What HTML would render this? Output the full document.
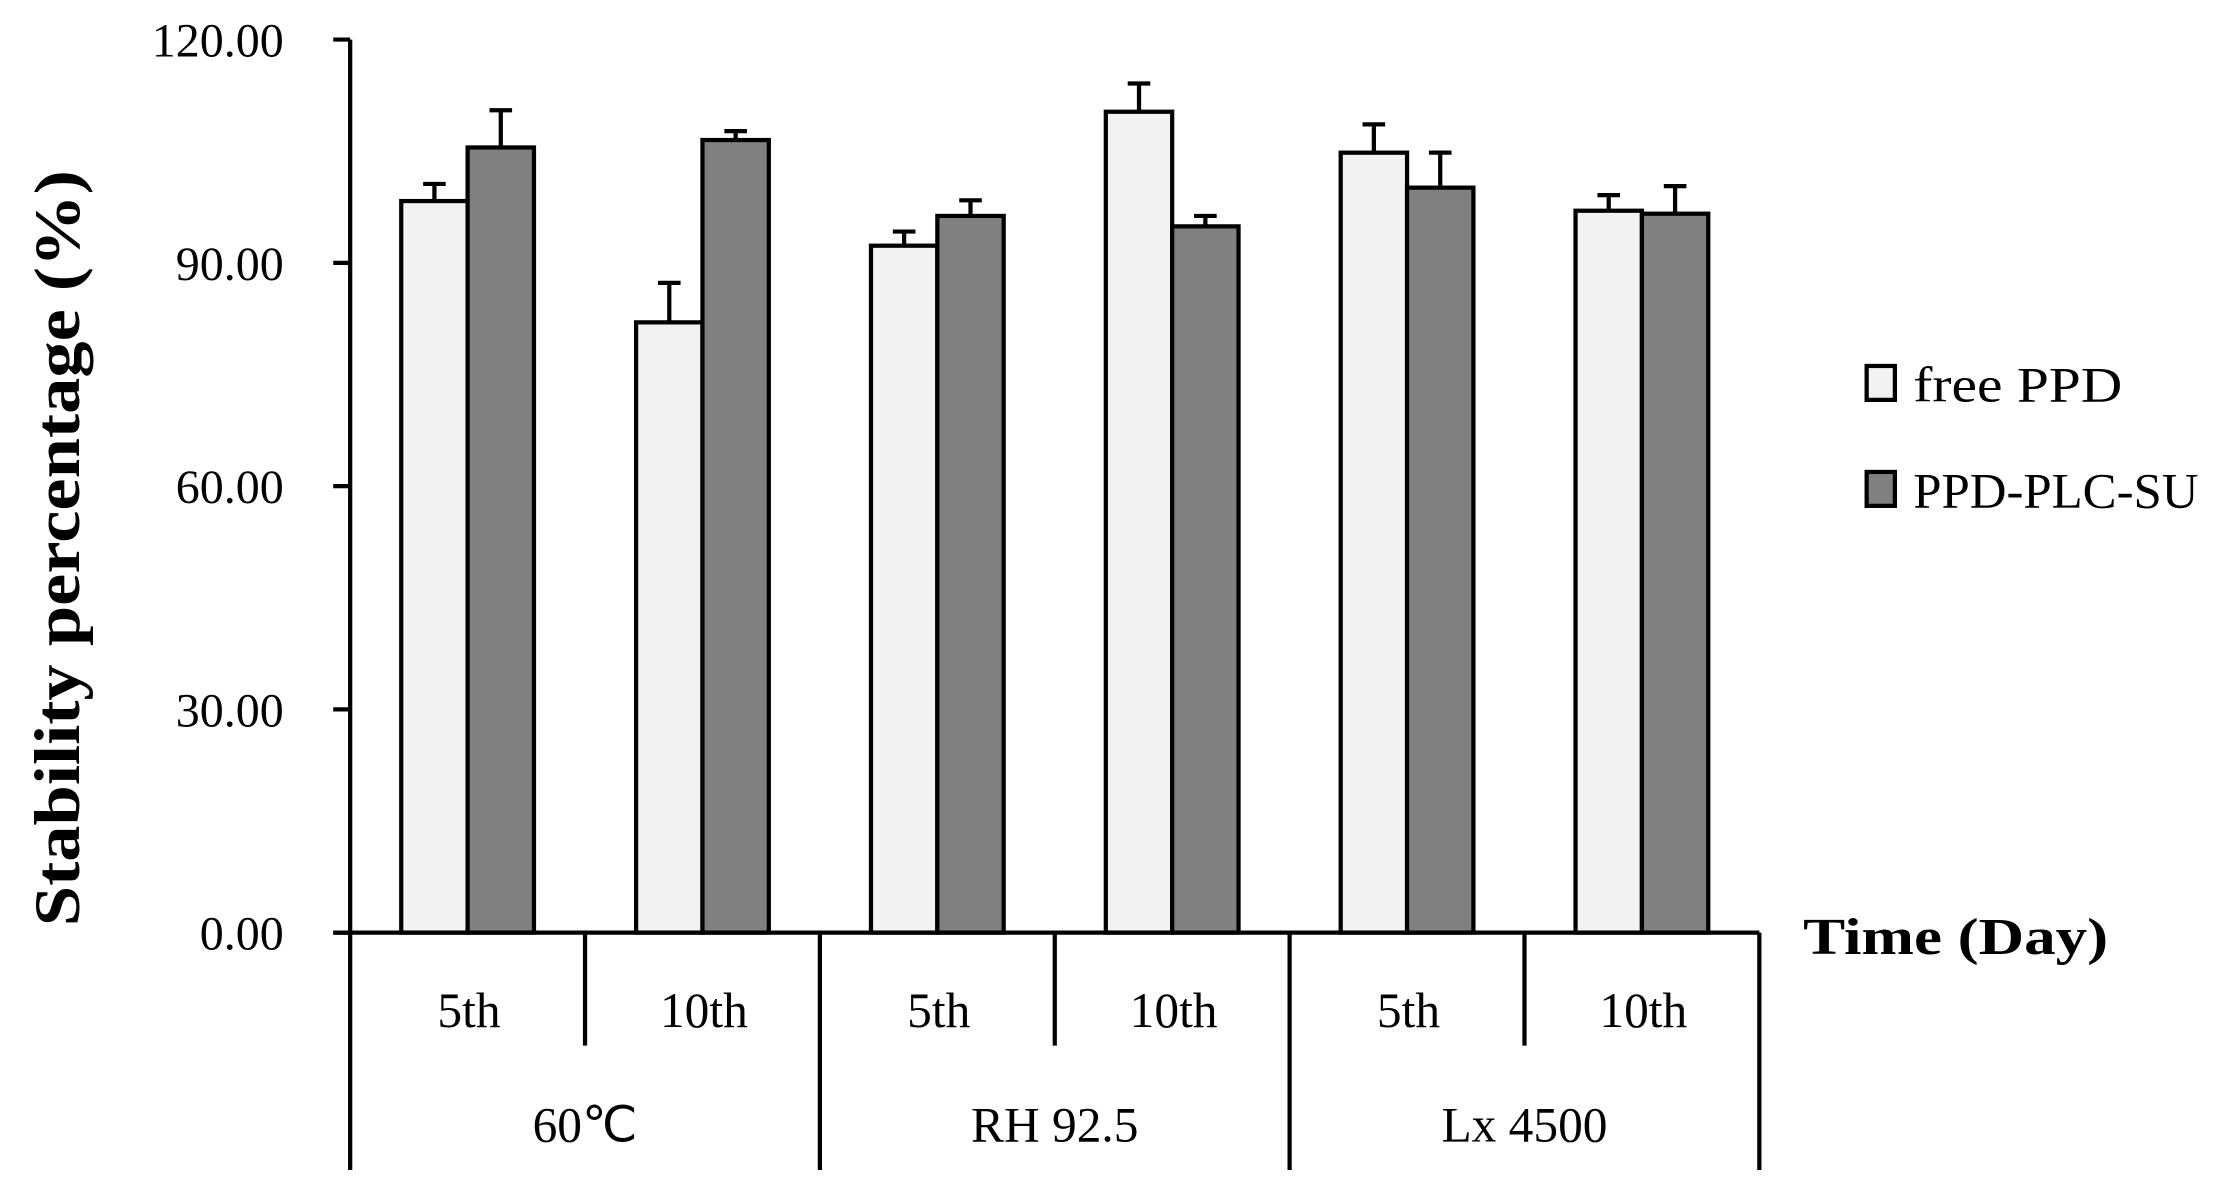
<!DOCTYPE html>
<html><head><meta charset="utf-8"><style>html,body{margin:0;padding:0;background:#fff}svg{display:block}</style></head>
<body>
<svg width="2214" height="1194" viewBox="0 0 1568 845" preserveAspectRatio="none" xmlns="http://www.w3.org/2000/svg" font-family="'Liberation Serif', serif">
<g id="plot"></g>
<script>
const categories = ["5th","10th","5th","10th","5th","10th"];
const groups = ["60℃","RH 92.5","Lx 4500"];
const freeVals = [98.3, 82.0, 92.3, 110.3, 104.8, 97.0];
const freeErr = [2.3, 5.3, 1.9, 3.8, 3.8, 2.1];
const plcVals = [105.5, 106.5, 96.3, 94.9, 100.1, 96.6];
const plcErr = [5.0, 1.2, 2.1, 1.4, 4.7, 3.7];
const yTicks = [0, 30, 60, 90, 120];
const yTickLabels = ["0.00","30.00","60.00","90.00","120.00"];

const NS = "http://www.w3.org/2000/svg";
const g = document.getElementById('plot');
const x0 = 248, x1 = 1246, yTop = 28, yBot = 660, yMax = 120;
const slot = (x1 - x0) / categories.length;
const bw = 47;
function yS(v){ return yBot - v / yMax * (yBot - yTop); }
function xC(i){ return x0 + slot * (i + 0.5); }
function mk(tag, attrs, parent){ const e = document.createElementNS(NS, tag); for (const k in attrs) e.setAttribute(k, attrs[k]); (parent||g).appendChild(e); return e; }

yTicks.forEach((t, i) => {
  const y = yS(t);
  const tk = mk('line', {x1: 236, x2: x0, y1: y, y2: y, stroke: '#000', 'stroke-width': 3});
  
  
  const tx = mk('text', {x: 201, y: y + 12, 'text-anchor': 'end', 'font-size': 34});
  tx.textContent = yTickLabels[i];
  
  
});

function bar(v, e, xl, fill, name){
  const y = yS(v);
  const r = mk('rect', {x: xl, y: y, width: bw, height: yBot - y, fill: fill, stroke: '#000', 'stroke-width': 3});
  
  
  const cx = xl + bw / 2, ye = yS(v + e);
  const el = mk('path', {d: `M${cx},${y} V${ye} M${cx-8},${ye} H${cx+8}`, stroke: '#000', 'stroke-width': 3, fill: 'none'});
  
  
}
categories.forEach((c, i) => {
  const cx = xC(i);
  bar(freeVals[i], freeErr[i], cx - bw, '#f2f2f2', 'bar-free-ppd');
  bar(plcVals[i], plcErr[i], cx, '#808080', 'bar-ppd-plc-su');
  const t = mk('text', {x: cx + 1, y: 727, 'text-anchor': 'middle', 'font-size': 35});
  t.textContent = c;
  
  
});
for (let i = 0; i <= categories.length; i++) {
  const x = x0 + slot * i;
  const l = mk('line', {x1: x, x2: x, y1: yBot, y2: (i % 2 === 0) ? 828 : 740, stroke: '#000', 'stroke-width': 3});
  
  
}
groups.forEach((gr, j) => {
  const t = mk('text', {x: x0 + slot * (2 * j + 1), y: 808, 'text-anchor': 'middle', 'font-size': 35});
  t.textContent = gr;
  
  
});
const ya = mk('line', {x1: x0, x2: x0, y1: yTop, y2: yBot, stroke: '#000', 'stroke-width': 3});


const xa = mk('line', {x1: 236, x2: x1, y1: yBot, y2: yBot, stroke: '#000', 'stroke-width': 3});


</script>
<text transform="translate(56,388) rotate(-90)" text-anchor="middle" font-size="46" font-weight="bold" textLength="535" lengthAdjust="spacingAndGlyphs">Stability percentage (%)</text>
<text x="1277" y="675" font-size="37" font-weight="bold" textLength="216" lengthAdjust="spacingAndGlyphs">Time (Day)</text>
<g>
<rect x="1322" y="259" width="20" height="24" fill="#f2f2f2" stroke="#000" stroke-width="3"/>
<text x="1355" y="284" font-size="35" textLength="148" lengthAdjust="spacingAndGlyphs">free PPD</text>
<rect x="1322" y="334" width="20" height="24" fill="#808080" stroke="#000" stroke-width="3"/>
<text x="1355" y="359" font-size="35" textLength="202" lengthAdjust="spacingAndGlyphs">PPD-PLC-SU</text>
</g>
</svg>
</body></html>
